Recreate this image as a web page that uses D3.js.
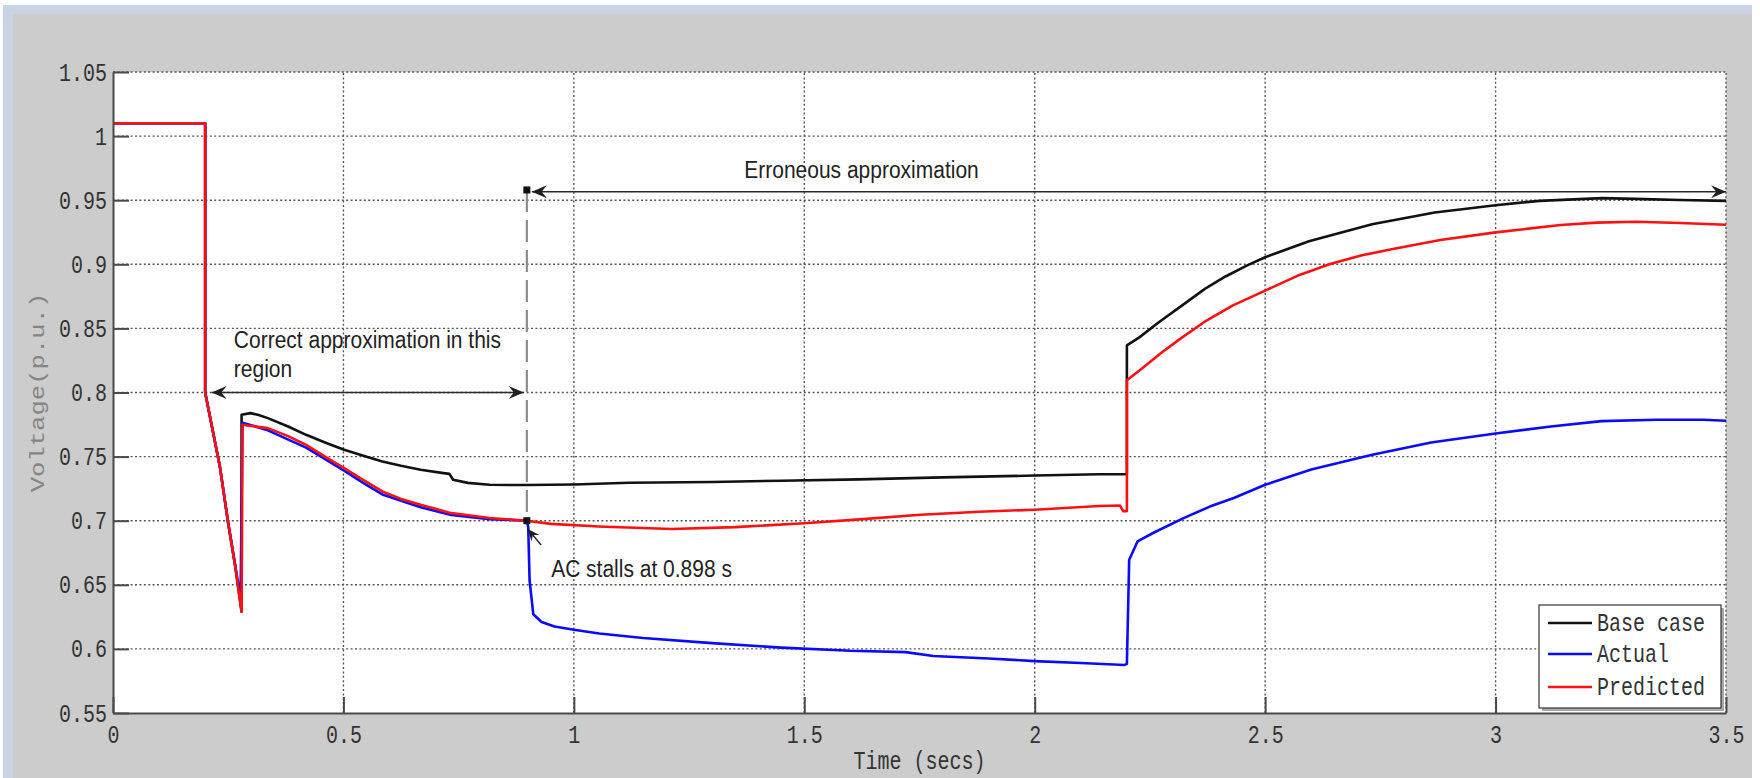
<!DOCTYPE html>
<html>
<head>
<meta charset="utf-8">
<script src="https://cdn.jsdelivr.net/npm/d3@7"></script>
<style>
  html, body { margin: 0; padding: 0; background: #fff; }
  svg { display: block; }
</style>
</head>
<body>
<svg id="chart" width="1760" height="778"></svg>
<script>
// * values (time in s, voltage in p.u.)
const xTicks = [0, 0.5, 1, 1.5, 2, 2.5, 3, 3.5];
const xTickLabels = ['0', '0.5', '1', '1.5', '2', '2.5', '3', '3.5'];
const yTicks = [0.55, 0.6, 0.65, 0.7, 0.75, 0.8, 0.85, 0.9, 0.95, 1, 1.05];
const yTickLabels = ['0.55', '0.6', '0.65', '0.7', '0.75', '0.8', '0.85', '0.9', '0.95', '1', '1.05'];

const seriesNames = ['Base case', 'Actual', 'Predicted'];

const baseCase = [
  [0, 1.01], [0.2, 1.01], [0.2, 0.80], [0.232, 0.742], [0.25, 0.698], [0.265, 0.665], [0.279, 0.629],
  [0.279, 0.7826], [0.298, 0.7839], [0.316, 0.7825], [0.336, 0.780], [0.38, 0.7735], [0.419, 0.767],
  [0.46, 0.761], [0.5015, 0.7553], [0.545, 0.7505], [0.5845, 0.7462], [0.625, 0.7428], [0.6675, 0.7397],
  [0.717, 0.7371], [0.73, 0.7365], [0.738, 0.7319], [0.77, 0.7295], [0.817, 0.728], [0.9, 0.7278],
  [1.0, 0.7282], [1.12, 0.7296], [1.3, 0.7302], [1.45, 0.7312], [1.619, 0.7322], [1.8, 0.7338],
  [2.0, 0.7352], [2.14, 0.7362], [2.2, 0.7362], [2.2, 0.8368], [2.227, 0.843], [2.27, 0.855],
  [2.32, 0.868], [2.37, 0.881], [2.414, 0.8905], [2.46, 0.899], [2.5, 0.9055], [2.595, 0.918],
  [2.732, 0.9313], [2.868, 0.9404], [3.0, 0.9461], [3.095, 0.9495], [3.232, 0.9516], [3.323, 0.9508],
  [3.4, 0.9502], [3.5, 0.9495]
];

const actual = [
  [0, 1.01], [0.2, 1.01], [0.2, 0.80], [0.232, 0.742], [0.25, 0.698], [0.2716, 0.651], [0.277, 0.6448],
  [0.281, 0.7765], [0.336, 0.7705], [0.419, 0.757], [0.5015, 0.739], [0.5427, 0.7295], [0.5845, 0.7205],
  [0.6675, 0.7105], [0.734, 0.7045], [0.817, 0.7012], [0.898, 0.70], [0.901, 0.695], [0.904, 0.653],
  [0.912, 0.627], [0.93, 0.621], [0.958, 0.6175], [1.0, 0.615], [1.055, 0.612], [1.15, 0.6085],
  [1.3, 0.6045], [1.45, 0.601], [1.6, 0.5985], [1.72, 0.5975], [1.78, 0.5945], [1.9, 0.5925],
  [2.0, 0.5905], [2.1, 0.589], [2.195, 0.5875], [2.2, 0.5883], [2.205, 0.6695], [2.223, 0.6838],
  [2.26, 0.691], [2.323, 0.702], [2.38, 0.711], [2.432, 0.7177], [2.5, 0.728], [2.6, 0.740],
  [2.73, 0.7513], [2.86, 0.761], [3.0, 0.768], [3.12, 0.7735], [3.23, 0.7777], [3.35, 0.7788],
  [3.45, 0.7787], [3.5, 0.778]
];

const predicted = [
  [0, 1.01], [0.2, 1.01], [0.2, 0.80], [0.232, 0.742], [0.25, 0.698], [0.265, 0.665], [0.279, 0.629],
  [0.281, 0.7748], [0.336, 0.7722], [0.38, 0.766], [0.419, 0.7592], [0.46, 0.750], [0.5015, 0.741],
  [0.5427, 0.7319], [0.5845, 0.7228], [0.625, 0.717], [0.6675, 0.7124], [0.734, 0.7059], [0.817, 0.7021],
  [0.898, 0.70], [0.95, 0.6975], [1.054, 0.6955], [1.212, 0.6935], [1.35, 0.695], [1.5, 0.698],
  [1.62, 0.701], [1.752, 0.7047], [1.88, 0.707], [2.0, 0.7086], [2.14, 0.7115], [2.185, 0.7118],
  [2.192, 0.7075], [2.2, 0.7075], [2.2, 0.8096], [2.23, 0.818], [2.277, 0.8316], [2.32, 0.843],
  [2.368, 0.855], [2.43, 0.868], [2.5, 0.8795], [2.57, 0.891], [2.641, 0.9003], [2.71, 0.907],
  [2.777, 0.9119], [2.88, 0.919], [3.0, 0.9249], [3.141, 0.9306], [3.22, 0.9325], [3.305, 0.9332],
  [3.4, 0.9322], [3.5, 0.9308]
];

// * layout
const plot = { left: 113, right: 1726, top: 72, bottom: 713 };
const monoFont = "'Liberation Mono', 'DejaVu Sans Mono', monospace";
const sansFont = "'Liberation Sans', Arial, sans-serif";
const axisColor = '#4a4a4a';

const svg = d3.select('#chart');

const xScale = d3.scaleLinear().domain([0, 3.5]).range([plot.left, plot.right]);
const yScale = d3.scaleLinear().domain([0.55, 1.05]).range([plot.bottom, plot.top]);

// window frame + figure background
svg.append('rect').attr('x', 3).attr('y', 5).attr('width', 1749).attr('height', 773).attr('fill', '#c9d3e4');
svg.append('rect').attr('x', 13).attr('y', 14).attr('width', 1739).attr('height', 764).attr('fill', '#cccccc');

svg.append('rect')
  .attr('x', plot.left).attr('y', plot.top)
  .attr('width', plot.right - plot.left).attr('height', plot.bottom - plot.top)
  .attr('fill', '#fff');

// dotted grid
const grid = svg.append('g')
  .attr('stroke', '#555')
  .attr('stroke-width', 1.4)
  .attr('stroke-dasharray', '2,2.4');

grid.selectAll('.gx')
  .data(xTicks.filter((d) => d > 0))
  .enter().append('line')
  .attr('x1', (d) => xScale(d)).attr('x2', (d) => xScale(d))
  .attr('y1', yScale(0.55)).attr('y2', yScale(1.05));

grid.selectAll('.gy')
  .data(yTicks.filter((d) => d > 0.55))
  .enter().append('line')
  .attr('y1', (d) => yScale(d)).attr('y2', (d) => yScale(d))
  .attr('x1', xScale(0)).attr('x2', xScale(3.5));

// curves
const line = d3.line().x((d) => xScale(d[0])).y((d) => yScale(d[1]));
const curves = [
  { data: baseCase, color: '#111111' },
  { data: actual, color: '#0a0aff' },
  { data: predicted, color: '#ff1010' }
];
svg.append('g').selectAll('path')
  .data(curves)
  .enter().append('path')
  .attr('d', (d) => line(d.data))
  .attr('fill', 'none')
  .attr('stroke', (d) => d.color)
  .attr('stroke-width', 2.6)
  .attr('stroke-linejoin', 'round');

// * annotations
const defs = svg.append('defs');
function arrowMarker(id, len, half) {
  defs.append('marker')
    .attr('id', id)
    .attr('markerUnits', 'userSpaceOnUse')
    .attr('viewBox', `${-len - 1} ${-half - 1} ${len + 2} ${2 * half + 2}`)
    .attr('refX', 0).attr('refY', 0)
    .attr('markerWidth', len + 2).attr('markerHeight', 2 * half + 2)
    .attr('orient', 'auto-start-reverse')
    .append('path')
    .attr('d', `M0,0 L${-len},${-half} L${-len * 0.65},0 L${-len},${half} Z`)
    .attr('fill', '#1e1e1e');
}
arrowMarker('arrow', 15, 6.5);
arrowMarker('arrowSmall', 12, 5);

const notes = svg.append('g');

// stall instant: dashed marker line
notes.append('line')
  .attr('x1', xScale(0.898)).attr('x2', xScale(0.898))
  .attr('y1', yScale(0.958)).attr('y2', yScale(0.70))
  .attr('stroke', '#8c8c8c').attr('stroke-width', 2.2)
  .attr('stroke-dasharray', '22,8');

// erroneous region arrow
notes.append('line')
  .attr('x1', xScale(0.898) + 5).attr('x2', xScale(3.5))
  .attr('y1', yScale(0.9565)).attr('y2', yScale(0.9565))
  .attr('stroke', '#2a2a2a').attr('stroke-width', 1.5)
  .attr('marker-start', 'url(#arrow)').attr('marker-end', 'url(#arrow)');

// correct region arrow
notes.append('line')
  .attr('x1', xScale(0.214)).attr('x2', xScale(0.891))
  .attr('y1', yScale(0.80)).attr('y2', yScale(0.80))
  .attr('stroke', '#2a2a2a').attr('stroke-width', 1.5)
  .attr('marker-start', 'url(#arrow)').attr('marker-end', 'url(#arrow)');

// pointer to stall point
notes.append('line')
  .attr('x1', xScale(0.929)).attr('y1', yScale(0.681))
  .attr('x2', xScale(0.900)).attr('y2', yScale(0.6935))
  .attr('stroke', '#2a2a2a').attr('stroke-width', 1.5)
  .attr('marker-end', 'url(#arrowSmall)');

notes.selectAll('.sq')
  .data([[0.898, 0.958], [0.898, 0.70]])
  .enter().append('rect')
  .attr('x', (d) => xScale(d[0]) - 3.5).attr('y', (d) => yScale(d[1]) - 3.5)
  .attr('width', 7).attr('height', 7)
  .attr('fill', '#111');

function label(g, px, py, str, font, size, sy, fill, anchor) {
  return g.append('text')
    .attr('transform', `translate(${px},${py}) scale(1,${sy})`)
    .attr('font-family', font)
    .attr('font-size', size)
    .attr('fill', fill)
    .attr('text-anchor', anchor || 'start')
    .text(str);
}

label(notes, xScale(1.3697), yScale(0.9673), 'Erroneous approximation', sansFont, 21, 1.1, '#222');
label(notes, xScale(0.2622), yScale(0.8347), 'Correct approximation in this', sansFont, 21, 1.1, '#222');
label(notes, xScale(0.2622), yScale(0.812), 'region', sansFont, 21, 1.1, '#222');
label(notes, xScale(0.9507), yScale(0.656), 'AC stalls at 0.898 s', sansFont, 21, 1.1, '#222');

// * axes (MATLAB style: inner ticks, left/bottom only)
const xAxis = d3.axisBottom(xScale)
  .tickValues(xTicks)
  .tickFormat((d, i) => xTickLabels[i])
  .tickSize(-16).tickSizeOuter(0);
const yAxis = d3.axisLeft(yScale)
  .tickValues(yTicks)
  .tickFormat((d, i) => yTickLabels[i])
  .tickSize(-16).tickSizeOuter(0);

const xAxisDraw = svg.append('g')
  .attr('transform', `translate(0,${plot.bottom})`)
  .call(xAxis);
const yAxisDraw = svg.append('g')
  .attr('transform', `translate(${plot.left},0)`)
  .call(yAxis);

[xAxisDraw, yAxisDraw].forEach((g) => {
  g.attr('font-family', monoFont).attr('font-size', 20);
  g.select('.domain').attr('stroke', axisColor).attr('stroke-width', 2);
  g.selectAll('.tick line').attr('stroke', axisColor).attr('stroke-width', 2);
  g.selectAll('.tick text').attr('fill', '#333');
});
xAxisDraw.selectAll('.tick text')
  .attr('y', 0).attr('dy', null)
  .attr('transform', 'translate(0,30) scale(1,1.25)');
yAxisDraw.selectAll('.tick text')
  .attr('x', 0).attr('dy', null)
  .attr('text-anchor', 'end')
  .attr('transform', 'translate(-6,8) scale(1,1.25)');

// axis titles
svg.append('text')
  .attr('transform', `translate(44,${(plot.top + plot.bottom) / 2}) rotate(-90) scale(1.28,1)`)
  .attr('font-family', monoFont).attr('font-size', 20)
  .attr('fill', '#858585').attr('text-anchor', 'middle')
  .text('Voltage(p.u.)');
label(svg, (plot.left + plot.right) / 2, 769, 'Time (secs)', monoFont, 20, 1.25, '#333', 'middle');

// * legend
const legend = svg.append('g');
legend.append('rect')
  .attr('x', 1542).attr('y', 608).attr('width', 182).attr('height', 103)
  .attr('fill', '#a8a8a8');
legend.append('rect')
  .attr('x', 1539).attr('y', 605).attr('width', 182).attr('height', 103)
  .attr('fill', '#fff').attr('stroke', '#333').attr('stroke-width', 1.2);

const legendRows = [623, 654, 687];
seriesNames.forEach((name, i) => {
  legend.append('line')
    .attr('x1', 1548).attr('x2', 1592)
    .attr('y1', legendRows[i]).attr('y2', legendRows[i])
    .attr('stroke', curves[i].color).attr('stroke-width', 2.5);
  label(legend, 1597, legendRows[i] + 8, name, monoFont, 20, 1.25, '#333');
});
</script>
</body>
</html>
